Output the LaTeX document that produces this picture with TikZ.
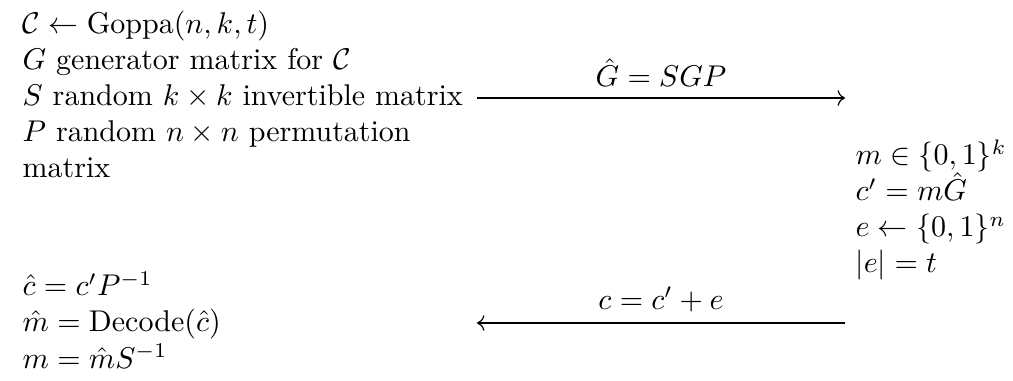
\documentclass[tikz,border=0pt]{standalone}
\usepackage{amsmath,amssymb}
\usepackage{tikz}
\usetikzlibrary{arrows.meta, positioning}

\begin{document}
\begin{tikzpicture}[
    party/.style={inner sep=0pt, align=left, anchor=base west, font=\fontsize{10}{12}\selectfont},
    msg/.style={inner sep=0pt, font=\fontsize{10}{12}\selectfont},
    arrowstyle/.style={->, >={To}, thin}
]
\useasboundingbox (0,0) rectangle (11.867,-4.463);

% Key generation (anchored at the baseline of its last line)
\node[party] (keygen) at (0.258,-2.074) {$\mathcal{C} \leftarrow \text{Goppa}(n,k,t)$\\
    $G$ generator matrix for $\mathcal{C}$\\
    $S$ random $k \times k$ invertible matrix\\
    $P$ random $n \times n$ permutation\\
    matrix};

% Encryption
\node[party] (enc) at (10.016,-3.198) {$m \in \{0,1\}^k$\\
    $c' = m\hat{G}$\\
    $e \leftarrow \{0,1\}^n$\\
    $|e| = t$};

% Decryption
\node[party] (dec) at (0.258,-4.311) {$\hat{c} = c'P^{-1}$\\
    $\hat{m} = \text{Decode}(\hat{c})$\\
    $m = \hat{m}S^{-1}$};

% Messages
\coordinate (pkL) at (5.588,-1.148);
\coordinate (pkR) at (9.899,-1.148);
\coordinate (ctR) at (9.899,-3.784);
\coordinate (ctL) at (5.588,-3.784);

\draw[arrowstyle] (pkL) -- node[msg, midway, above=3.6pt] (pk) {$\hat{G} = SGP$} (pkR);
\draw[arrowstyle] (ctR) -- node[msg, midway, above=3.6pt] (ct) {$c = c' + e$} (ctL);
\end{tikzpicture}
\end{document}
